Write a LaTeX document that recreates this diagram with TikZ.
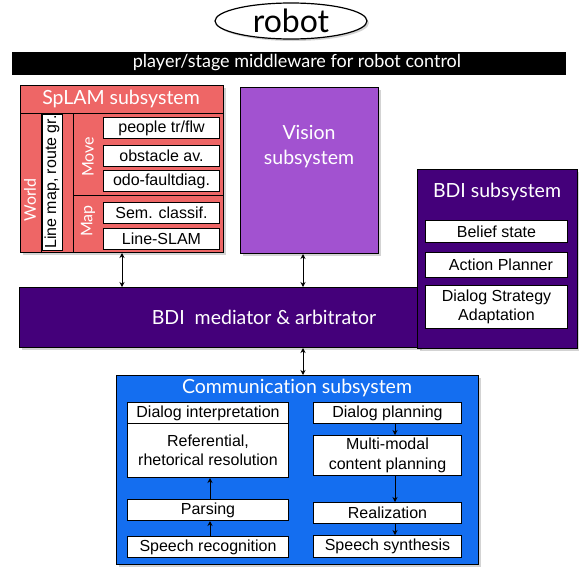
\documentclass[tikz,border=0pt]{standalone}
\usepackage{fontspec}
\setmainfont{Liberation Sans}
\newfontfamily\gillfont[Ligatures=NoCommon]{Lato}
\usetikzlibrary{shapes.geometric,shadows,arrows.meta}
\definecolor{splamred}{RGB}{238,102,102}
\definecolor{visionpurple}{RGB}{162,82,208}
\definecolor{bdipurple}{RGB}{68,0,122}
\definecolor{commblue}{RGB}{20,110,240}
\tikzset{
  panel/.style={draw=black, line width=1pt, anchor=north west, inner sep=0pt,
    drop shadow={opacity=0.35, shadow xshift=2pt, shadow yshift=-2pt}},
  wbox/.style={draw=black, line width=1pt, fill=white, anchor=north west, inner sep=0pt,
    align=center, font=\fontsize{16}{19.5}\selectfont},
  ttl/.style={text=white, inner sep=0pt, align=center, font=\gillfont\fontsize{19.5}{25}\selectfont},
  side/.style={text=white, inner sep=0pt, rotate=90, font=\gillfont\fontsize{16}{16}\selectfont},
  link/.style={line width=0.9pt, {Stealth[length=5pt,width=5pt]}-{Stealth[length=5pt,width=5pt]}},
  flow/.style={line width=0.9pt, -{Stealth[length=5pt,width=5pt]}},
}
\begin{document}
\begin{tikzpicture}[x=1pt,y=-1pt]
\useasboundingbox (0,0) rectangle (579,568);
% top: robot and middleware
\node[ellipse, draw, line width=1.2pt, fill=white, minimum width=152pt, minimum height=36pt,
  inner sep=0pt, drop shadow={opacity=0.35, shadow xshift=2pt, shadow yshift=-2pt},
  font=\gillfont\fontsize{32}{32}\selectfont] (robot) at (291,21) {robot};
\node[fill=black, anchor=north west, minimum width=554pt, minimum height=23pt, inner sep=0pt] (mw) at (12,52) {};
\node[text=white, inner sep=0pt, font=\gillfont\fontsize{18}{18}\selectfont] (mwttl) at (297,63) {player/stage middleware for robot control};

% SpLAM subsystem
\node[panel, fill=splamred, minimum width=203pt, minimum height=167pt] (splam) at (20,85) {};
\node[ttl] (splamttl) at (121,99) {SpLAM subsystem};
\draw[line width=1pt] (20,113) -- (223,113) (41,113) -- (41,252) (73,113) -- (73,252) (73,195) -- (223,195);
\node[draw, line width=1pt, fill=white, rotate=90, minimum width=136pt, minimum height=20pt, inner sep=0pt,
  font=\fontsize{16}{16}\selectfont] (linemap) at (52,182) {Line map, route gr.};
\node[side] (world) at (30,200) {World};
\node[side] (move) at (88,157) {Move};
\node[side] (map) at (88,221) {Map};
\node[wbox, minimum width=116pt, minimum height=21pt] (people) at (103,117) {people tr/flw};
\node[wbox, minimum width=116pt, minimum height=21pt] (obst) at (103,145) {obstacle av.};
\node[wbox, minimum width=116pt, minimum height=21pt] (odo) at (103,170) {odo-faultdiag.};
\node[wbox, minimum width=116pt, minimum height=21pt] (sem) at (103,202) {Sem. classif.};
\node[wbox, minimum width=116pt, minimum height=21pt] (lslam) at (103,228) {Line-SLAM};

% Vision subsystem
\node[panel, fill=visionpurple, minimum width=138pt, minimum height=166pt] (vision) at (240,87) {};
\node[ttl] (visionttl) at (309,147) {Vision\\subsystem};

% mediator and BDI subsystem
\node[panel, fill=bdipurple, minimum width=400pt, minimum height=60pt] (med) at (19,287) {};
\node[ttl] (medttl) at (264,317) {BDI\ \ mediator \& arbitrator};
\node[panel, fill=bdipurple, minimum width=160pt, minimum height=179pt] (bdi) at (417,169) {};
\node[ttl] (bdittl) at (497,192) {BDI subsystem};
\node[wbox, minimum width=142pt, minimum height=22pt] (belief) at (425,220) {Belief state};
\node[wbox, minimum width=142pt, minimum height=25pt] (action) at (425,252) {\ \ Action Planner};
\node[wbox, minimum width=142pt, minimum height=43pt] (dstrat) at (425,285) {Dialog Strategy\\Adaptation};

% Communication subsystem
\node[panel, fill=commblue, minimum width=362pt, minimum height=189pt] (comm) at (116,375) {};
\node[ttl] (commttl) at (297,388) {Communication subsystem};
\node[wbox, minimum width=161pt, minimum height=21pt] (dint) at (127,402) {Dialog interpretation};
\node[wbox, minimum width=161pt, minimum height=54pt] (refr) at (127,423) {Referential,\\rhetorical resolution};
\node[wbox, minimum width=161pt, minimum height=21pt] (pars) at (127,499) {Parsing};
\node[wbox, minimum width=161pt, minimum height=21pt] (srec) at (127,536) {Speech recognition};
\node[wbox, minimum width=148pt, minimum height=21pt] (dplan) at (313,402) {Dialog planning};
\node[wbox, minimum width=148pt, minimum height=40pt] (mmod) at (313,435) {Multi-modal\\content planning};
\node[wbox, minimum width=148pt, minimum height=21pt] (real) at (313,502) {Realization};
\node[wbox, minimum width=148pt, minimum height=22pt] (ssyn) at (313,535) {Speech synthesis};

% connectors
\coordinate (vx) at (303,0);
\coordinate (lx) at (210,0);
\coordinate (rx) at (395,0);
\draw[link] (splam.south) -- (splam.south |- med.north);
\draw[link] (vx |- vision.south) -- (vx |- med.north);
\draw[link] (vx |- med.south) -- (vx |- comm.north);
\draw[flow] (lx |- srec.north) -- (lx |- pars.south);
\draw[flow] (lx |- pars.north) -- (lx |- refr.south);
\draw[flow] (rx |- dplan.south) -- (rx |- mmod.north);
\draw[flow] (rx |- mmod.south) -- (rx |- real.north);
\draw[flow] (rx |- real.south) -- (rx |- ssyn.north);
\end{tikzpicture}
\end{document}
